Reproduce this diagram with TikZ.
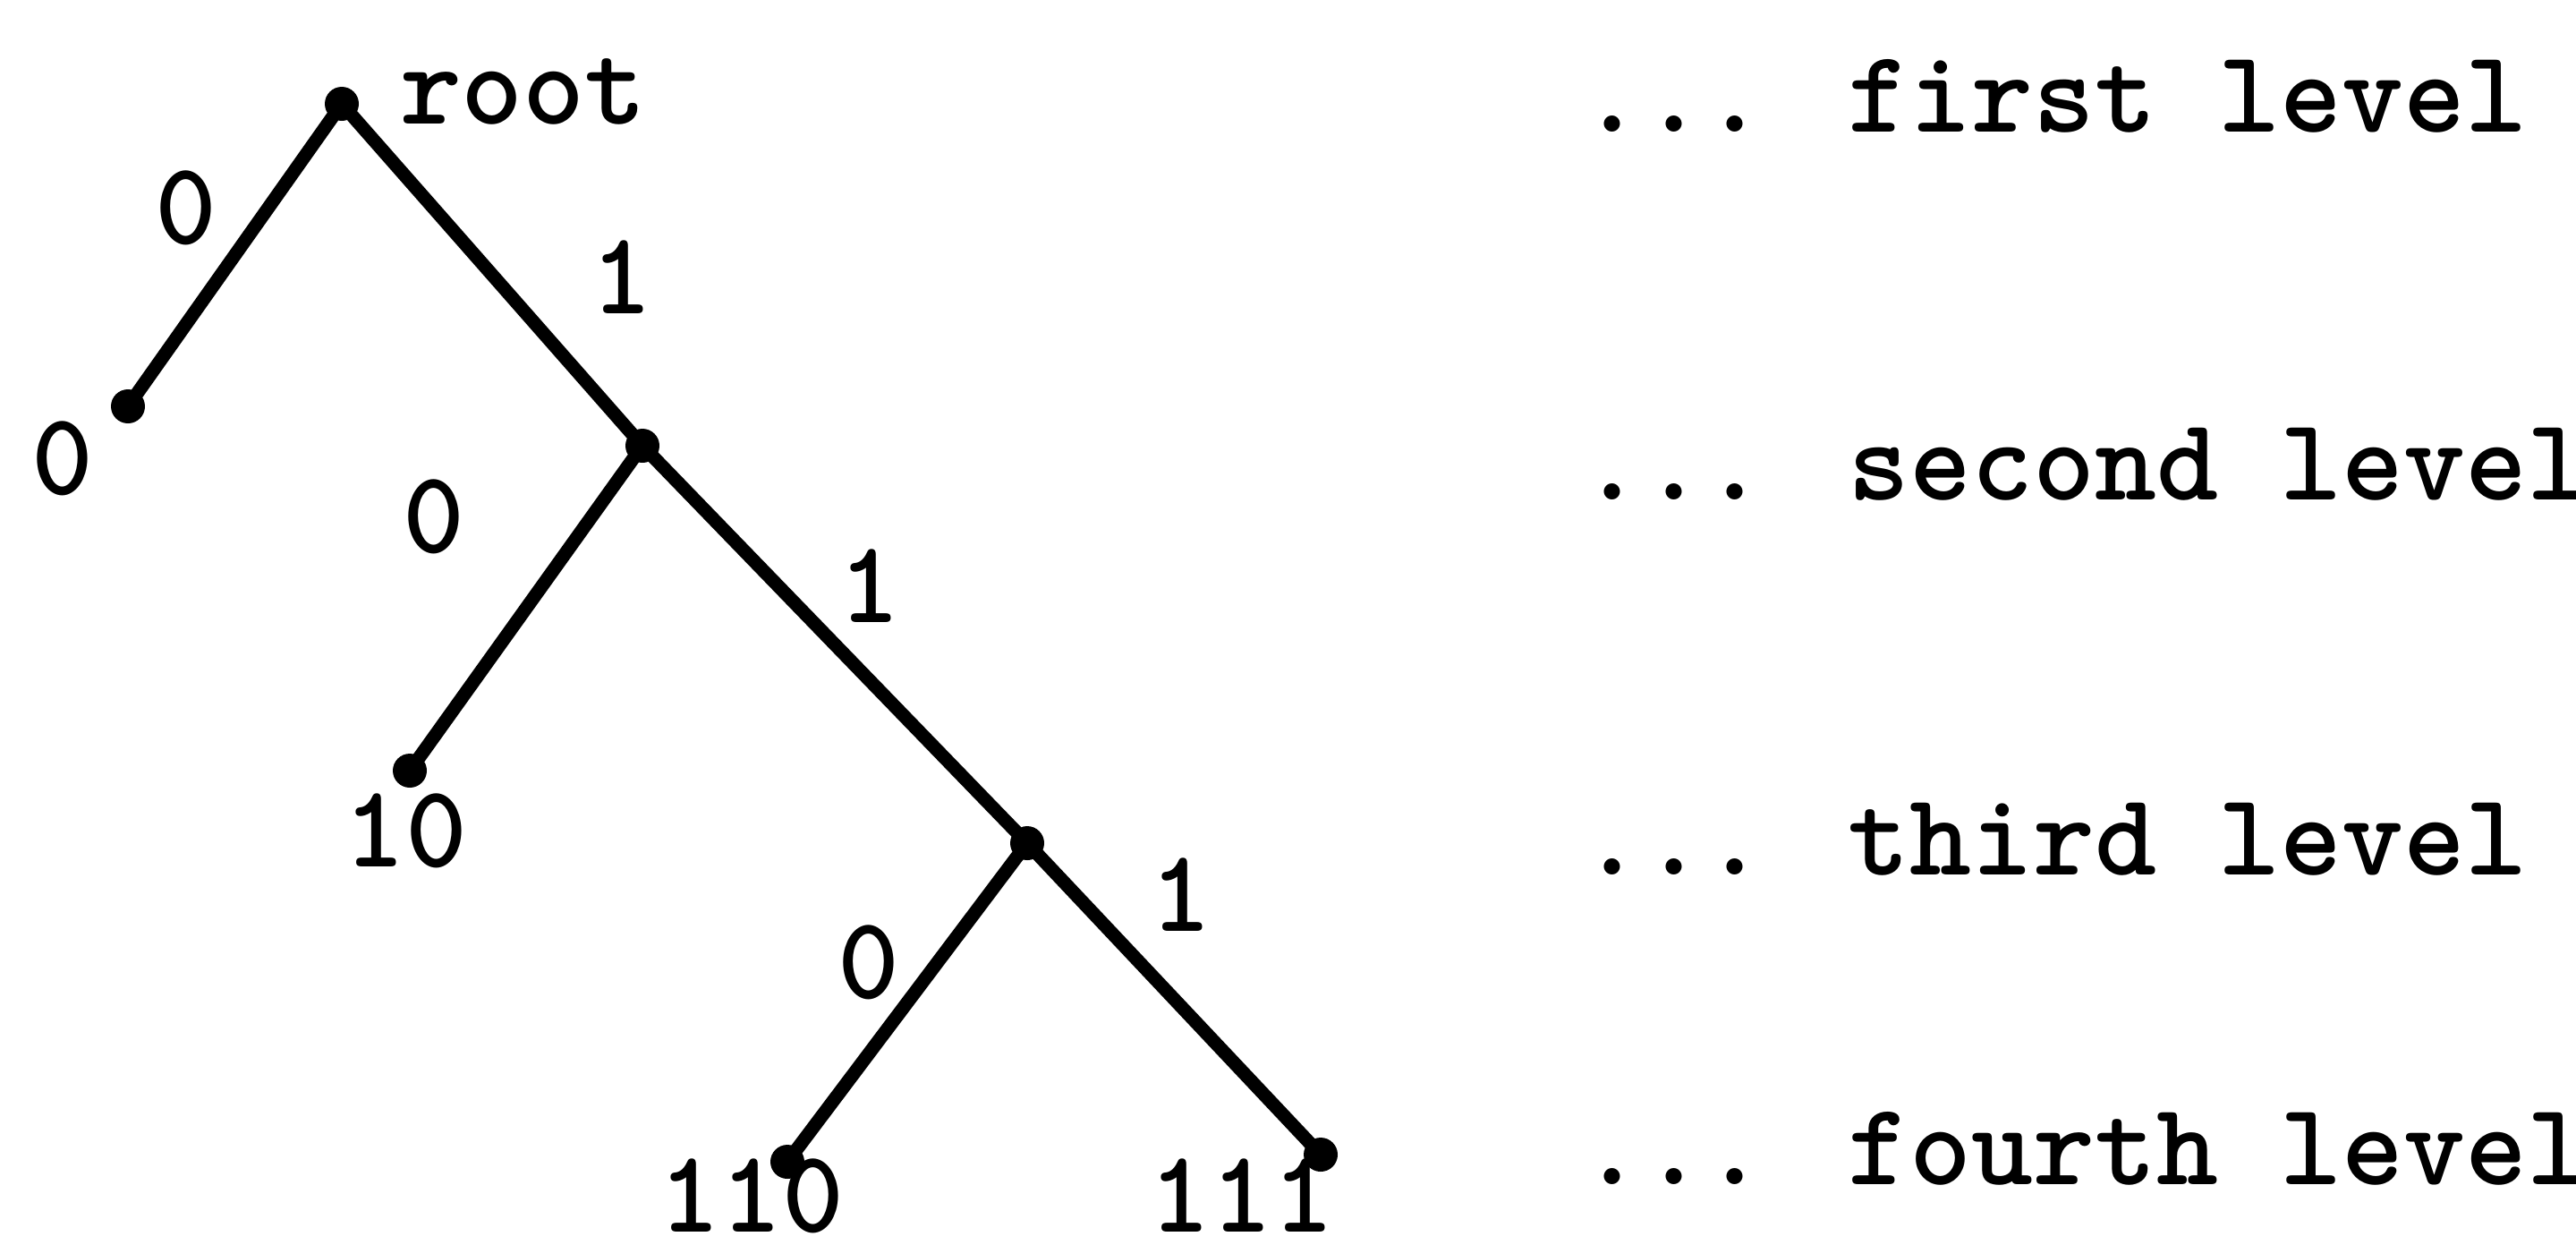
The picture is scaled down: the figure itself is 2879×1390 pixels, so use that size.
\documentclass[tikz,border=0pt]{standalone}
\begin{document}
\begin{tikzpicture}[x=0.1pt,y=-0.1pt,
  dot/.style={circle,fill=black,inner sep=0pt,minimum size=3.8pt},
  edge/.style={line width=1.5pt,line cap=round},
  lbl/.style={inner sep=0pt,font=\ttfamily\bfseries\fontsize{13.14}{16}\selectfont},
  lvl/.style={lbl,anchor=base west}]
\path[use as bounding box] (0,0) rectangle (2879,1390);
% tree vertices
\node[dot] (root) at (382,116) {};
\node[dot] (l0)   at (143,454) {};
\node[dot] (n1)   at (718,498) {};
\node[dot] (l10)  at (458,861) {};
\node[dot] (n11)  at (1148,942) {};
\node[dot] (l110) at (880,1298) {};
\node[dot] (l111) at (1476,1290) {};
% edges
\draw[edge] (root.center) -- (l0.center);
\draw[edge] (root.center) -- (n1.center);
\draw[edge] (n1.center) -- (l10.center);
\draw[edge] (n1.center) -- (n11.center);
\draw[edge] (n11.center) -- (l110.center);
\draw[edge] (n11.center) -- (l111.center);
% vertex labels
\node[lbl,anchor=base west] (troot) at (445,138) {root};
\node[lbl] (tl0) at (70,512) {0};
\node[lbl,anchor=base] (tl10) at (453,968) {10};
\node[lbl,anchor=base] (tl110) at (840,1376) {110};
\node[lbl,anchor=base] (tl111) at (1388,1376) {111};
% edge labels
\node[lbl] (e0a) at (208,232) {0};
\node[lbl] (e1a) at (695,310) {1};
\node[lbl] (e0b) at (485,577) {0};
\node[lbl] (e1b) at (972,655) {1};
\node[lbl] (e0c) at (971,1075) {0};
\node[lbl] (e1c) at (1320,1000) {1};
% level captions
\node[lvl] (lv1) at (1765,147) {... first level};
\node[lvl] (lv2) at (1765,558) {... second level};
\node[lvl] (lv3) at (1765,977) {... third level};
\node[lvl] (lv4) at (1765,1323) {... fourth level};
\end{tikzpicture}
\end{document}
